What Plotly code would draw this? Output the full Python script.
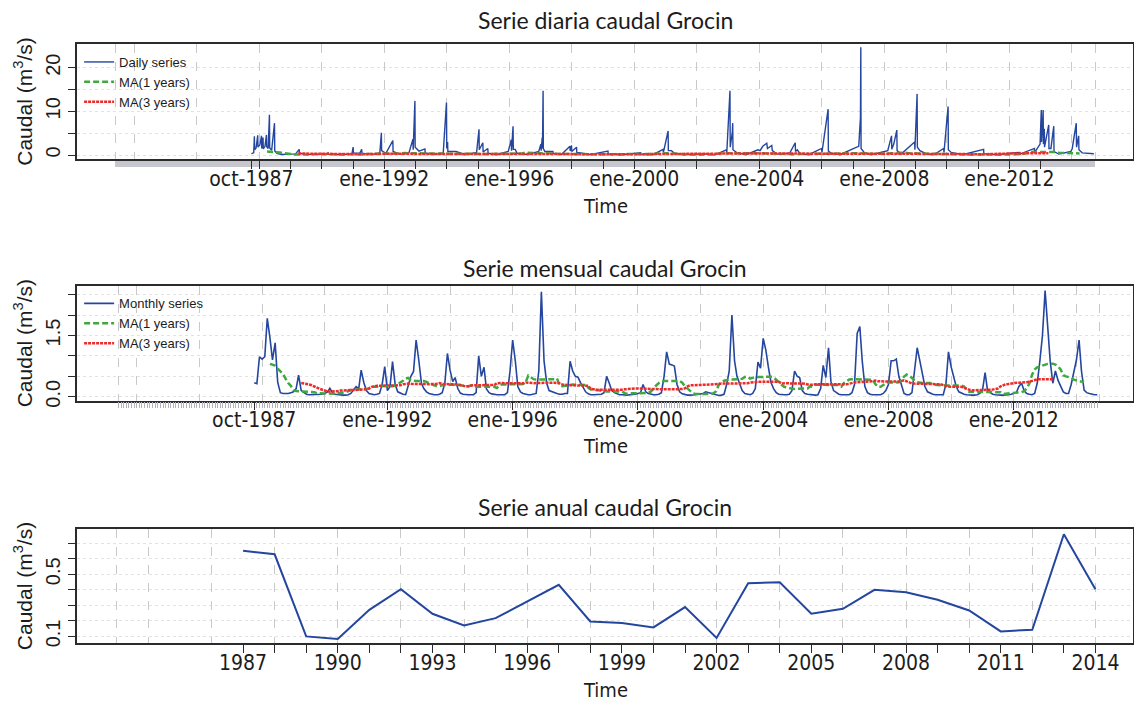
import pandas as pd
import plotly.graph_objects as go

# ---------------- DATA ----------------
daily_dates = [
    "1987-10-01", "1987-10-28", "1987-11-05", "1987-11-08", "1987-11-25", "1987-12-14", "1987-12-17",
    "1988-01-08", "1988-01-27", "1988-01-30", "1988-02-14", "1988-02-17", "1988-03-08", "1988-03-25",
    "1988-03-28", "1988-04-14", "1988-04-29", "1988-05-02", "1988-05-25", "1988-06-27", "1988-06-30",
    "1988-07-25", "1988-09-15", "1988-12-10", "1989-03-01", "1989-04-12", "1989-04-15", "1989-07-01",
    "1989-12-01", "1990-03-10", "1990-03-15", "1990-03-18", "1990-09-01", "1990-12-20", "1991-01-02",
    "1991-01-05", "1991-03-20", "1991-04-12", "1991-04-15", "1991-08-01", "1991-11-10", "1991-11-28",
    "1991-12-01", "1992-01-20", "1992-04-10", "1992-04-13", "1992-07-01", "1992-10-15", "1992-12-01",
    "1992-12-04", "1992-12-24", "1992-12-27", "1993-02-10", "1993-04-20", "1993-04-23", "1993-08-01",
    "1993-11-20", "1993-12-28", "1993-12-31", "1994-01-10", "1994-01-13", "1994-04-20", "1994-08-01",
    "1994-12-15", "1995-01-12", "1995-01-15", "1995-02-26", "1995-03-01", "1995-04-25", "1995-04-28",
    "1995-08-01", "1995-12-20", "1996-01-24", "1996-01-27", "1996-02-14", "1996-02-17", "1996-03-10",
    "1996-04-01", "1996-08-01", "1996-12-10", "1997-01-04", "1997-01-07", "1997-01-20", "1997-01-23",
    "1997-01-30", "1997-02-02", "1997-02-20", "1997-05-25", "1997-05-28", "1997-09-01", "1997-12-10",
    "1997-12-13", "1997-12-28", "1997-12-31", "1998-02-25", "1998-02-28", "1998-04-15", "1998-08-01",
    "1999-02-27", "1999-03-02", "1999-08-01", "2000-03-15", "2000-03-18", "2000-08-01", "2000-12-03",
    "2000-12-06", "2001-01-30", "2001-02-02", "2001-03-10", "2001-04-15", "2001-08-01", "2002-03-20",
    "2002-08-01", "2002-12-14", "2002-12-17", "2003-01-23", "2003-01-26", "2003-02-20", "2003-02-24",
    "2003-02-27", "2003-04-15", "2003-08-01", "2003-12-15", "2004-01-10", "2004-02-10", "2004-03-28",
    "2004-04-05", "2004-05-25", "2004-06-01", "2004-07-25", "2004-12-20", "2005-02-24", "2005-02-27",
    "2005-03-20", "2005-04-20", "2005-08-01", "2005-12-28", "2006-01-02", "2006-03-15", "2006-03-18",
    "2006-04-20", "2006-08-01", "2007-01-10", "2007-03-08", "2007-03-28", "2007-04-01", "2007-04-04",
    "2007-05-10", "2007-08-01", "2008-02-10", "2008-03-25", "2008-03-28", "2008-04-20", "2008-05-26",
    "2008-05-29", "2008-07-15", "2008-12-20", "2008-12-23", "2009-01-18", "2009-01-21", "2009-02-20",
    "2009-05-01", "2009-08-01", "2009-11-25", "2009-11-28", "2010-01-15", "2010-01-18", "2010-02-20",
    "2010-07-01", "2011-03-06", "2011-03-09", "2011-08-01", "2012-05-01", "2012-05-04", "2012-10-20",
    "2012-10-23", "2012-12-25", "2013-01-08", "2013-01-11", "2013-01-30", "2013-02-02", "2013-02-12",
    "2013-02-15", "2013-04-05", "2013-04-08", "2013-05-01", "2013-06-03", "2013-06-06", "2013-08-01",
    "2013-12-20", "2014-01-05", "2014-02-21", "2014-02-24", "2014-03-21", "2014-03-24", "2014-05-01",
    "2014-09-15",
]
daily_values = [
    0.30, 0.50, 4.3, 1.2, 1.6, 4.5, 1.8,
    2.3, 4.4, 1.5, 4.0, 1.4, 2.0, 4.6,
    1.9, 1.5, 9.2, 1.6, 1.1, 7.3, 0.9,
    0.35, 0.12, 0.15, 0.25, 1.3, 0.4, 0.10,
    0.08, 0.20, 0.6, 0.20, 0.05, 0.30, 1.8,
    0.5, 0.4, 1.3, 0.4, 0.10, 0.5, 5.1,
    1.0, 0.4, 3.3, 0.8, 0.15, 0.5, 3.6,
    1.2, 12.4, 1.8, 0.9, 1.4, 0.5, 0.10,
    0.5, 12.0, 1.5, 3.0, 0.8, 0.8, 0.08,
    0.6, 5.9, 1.2, 2.8, 0.7, 1.5, 0.4,
    0.08, 0.8, 3.5, 1.0, 6.6, 1.3, 1.3,
    0.4, 0.08, 0.8, 2.5, 1.0, 4.0, 1.5,
    14.7, 1.5, 0.8, 0.8, 0.3, 0.10, 2.0,
    0.9, 2.2, 0.8, 1.8, 0.6, 0.5, 0.08,
    0.9, 0.3, 0.06, 0.5, 0.15, 0.06, 1.3,
    0.6, 5.5, 1.0, 1.0, 0.4, 0.05, 0.3,
    0.04, 1.2, 0.6, 14.7, 1.8, 5.3, 7.3,
    1.2, 0.5, 0.08, 1.2, 1.0, 2.0, 2.7,
    1.5, 2.2, 1.0, 0.2, 0.4, 2.8, 0.8,
    1.2, 0.3, 0.06, 1.5, 0.6, 10.5, 0.9,
    0.4, 0.06, 1.5, 2.0, 8.6, 24.7, 1.5,
    0.6, 0.06, 1.0, 4.4, 1.3, 2.5, 5.7,
    1.0, 0.2, 3.0, 1.2, 14.0, 1.8, 1.0,
    0.3, 0.06, 1.5, 0.6, 11.1, 1.2, 0.6,
    0.06, 1.3, 0.3, 0.05, 0.6, 0.2, 1.5,
    0.6, 2.5, 10.3, 3.0, 10.3, 2.5, 6.0,
    1.8, 6.9, 1.5, 1.5, 6.6, 0.8, 0.2,
    0.8, 1.5, 7.3, 1.8, 4.4, 1.2, 0.5,
    0.3,
]

# monthly means, hydrological years Oct..Sep, oct-1987 .. sep-2014
monthly_start = "1987-10-01"
monthly_values = [
    0.34, 0.32, 0.98, 0.92, 0.98, 1.92, 1.45, 0.90, 1.32, 0.35, 0.10, 0.08,  # 1987-88
    0.08, 0.08, 0.10, 0.12, 0.20, 0.53, 0.15, 0.10, 0.06, 0.05, 0.05, 0.05,  # 1988-89
    0.05, 0.05, 0.06, 0.08, 0.12, 0.21, 0.10, 0.06, 0.05, 0.05, 0.04, 0.04,  # 1989-90
    0.05, 0.08, 0.15, 0.25, 0.20, 0.65, 0.35, 0.15, 0.08, 0.06, 0.05, 0.06,  # 1990-91
    0.08, 0.30, 0.74, 0.15, 0.25, 0.86, 0.30, 0.12, 0.08, 0.06, 0.05, 0.30,  # 1991-92
    0.50, 0.62, 1.39, 0.90, 0.33, 0.20, 0.12, 0.08, 0.06, 0.05, 0.05, 0.06,  # 1992-93
    0.10, 0.33, 1.06, 0.65, 0.37, 0.47, 0.20, 0.09, 0.06, 0.05, 0.05, 0.05,  # 1993-94
    0.05, 0.10, 1.00, 0.50, 0.72, 0.19, 0.10, 0.07, 0.05, 0.05, 0.05, 0.05,  # 1994-95
    0.05, 0.10, 0.62, 1.39, 0.88, 0.25, 0.12, 0.08, 0.06, 0.05, 0.05, 0.06,  # 1995-96
    0.08, 0.63, 2.57, 0.88, 0.33, 0.15, 0.12, 0.10, 0.08, 0.06, 0.06, 0.08,  # 1996-97
    0.08, 0.87, 0.63, 0.50, 0.48, 0.35, 0.25, 0.12, 0.07, 0.05, 0.05, 0.05,  # 1997-98
    0.05, 0.06, 0.10, 0.50, 0.33, 0.15, 0.10, 0.07, 0.05, 0.05, 0.04, 0.04,  # 1998-99
    0.05, 0.05, 0.06, 0.08, 0.10, 0.30, 0.12, 0.08, 0.06, 0.05, 0.05, 0.06,  # 1999-00
    0.10, 0.50, 1.10, 0.80, 0.78, 0.75, 0.30, 0.12, 0.07, 0.05, 0.04, 0.04,  # 2000-01
    0.04, 0.05, 0.06, 0.07, 0.08, 0.12, 0.10, 0.08, 0.05, 0.04, 0.03, 0.04,  # 2001-02
    0.06, 0.30, 0.63, 2.00, 0.88, 0.50, 0.33, 0.15, 0.08, 0.06, 0.05, 0.08,  # 2002-03
    0.20, 0.85, 0.70, 1.43, 1.14, 0.73, 0.35, 0.20, 0.10, 0.06, 0.05, 0.05,  # 2003-04
    0.05, 0.06, 0.15, 0.63, 0.50, 0.47, 0.15, 0.08, 0.06, 0.05, 0.04, 0.04,  # 2004-05
    0.05, 0.20, 0.77, 0.47, 1.20, 0.37, 0.15, 0.10, 0.06, 0.05, 0.05, 0.05,  # 2005-06
    0.05, 0.10, 0.30, 1.55, 1.72, 0.88, 0.25, 0.10, 0.06, 0.05, 0.05, 0.05,  # 2006-07
    0.05, 0.08, 0.15, 0.30, 0.88, 0.88, 0.92, 0.50, 0.25, 0.08, 0.05, 0.05,  # 2007-08
    0.10, 0.73, 1.20, 0.88, 0.50, 0.25, 0.12, 0.08, 0.06, 0.05, 0.05, 0.05,  # 2008-09
    0.05, 0.30, 1.10, 0.73, 0.45, 0.25, 0.12, 0.08, 0.06, 0.05, 0.04, 0.04,  # 2009-10
    0.04, 0.05, 0.08, 0.15, 0.59, 0.16, 0.10, 0.06, 0.05, 0.04, 0.04, 0.04,  # 2010-11
    0.04, 0.05, 0.06, 0.08, 0.10, 0.25, 0.33, 0.15, 0.08, 0.06, 0.05, 0.08,  # 2011-12
    0.33, 0.88, 1.50, 2.60, 1.72, 0.88, 0.33, 0.63, 0.40, 0.25, 0.12, 0.08,  # 2012-13
    0.08, 0.30, 0.63, 0.90, 1.39, 0.63, 0.16, 0.10, 0.08, 0.06, 0.05, 0.05,  # 2013-14
]

annual_years = list(range(1987, 2015))
annual_values = [
    0.652, 0.629, 0.100, 0.083, 0.271, 0.404, 0.246, 0.171, 0.218, 0.325,
    0.432, 0.196, 0.186, 0.158, 0.289, 0.090, 0.443, 0.449, 0.246, 0.278,
    0.400, 0.385, 0.336, 0.267, 0.132, 0.143, 0.758, 0.404,
]

# axis tick labels
time_tick_dates = ["1987-10-01"] + [f"{y}-01-01" for y in range(1988, 2015)]
time_tick_labels = {"1987-10-01": "oct-1987", "1992-01-01": "ene-1992", "1996-01-01": "ene-1996",
                    "2000-01-01": "ene-2000", "2004-01-01": "ene-2004", "2008-01-01": "ene-2008",
                    "2012-01-01": "ene-2012"}
annual_tick_labels = [1987, 1990, 1993, 1996, 1999, 2002, 2005, 2008, 2011, 2014]
series_span = ("1983-06-01", "2014-09-30")

# ---------------- DERIVED ----------------
monthly_dates = pd.date_range(monthly_start, periods=len(monthly_values), freq="MS")
ms = pd.Series(monthly_values, index=monthly_dates)
ma1 = ms.rolling(12, center=True).mean()
ma3 = ms.rolling(36, center=True).mean()

BLUE = "#24469e"
GREEN = "#3fa83f"
RED = "#ee2a2a"
AX = "#2b2b2b"
GRID = "#c9c9c9"
HGRID = "#e2e2e2"
NARROW = "Liberation Sans Narrow, DejaVu Sans Condensed, Arial Narrow, sans-serif"
SANS = "Liberation Sans, Arial, sans-serif"
TITLEF = "Lato, Open Sans, sans-serif"
TXT = "#1c1c1c"

fig = go.Figure()

# daily panel
fig.add_trace(go.Scatter(x=daily_dates, y=daily_values, mode="lines", name="Daily series",
                         line=dict(color=BLUE, width=1.4), xaxis="x", yaxis="y", legend="legend"))
fig.add_trace(go.Scatter(x=ma1.index, y=ma1.values, mode="lines", name="MA(1 years)",
                         line=dict(color=GREEN, width=2.5, dash="6px,3px"), xaxis="x", yaxis="y", legend="legend"))
fig.add_trace(go.Scatter(x=ma3.index, y=ma3.values, mode="lines", name="MA(3 years)",
                         line=dict(color=RED, width=2.5, dash="3px,1px"), xaxis="x", yaxis="y", legend="legend"))

# monthly panel
fig.add_trace(go.Scatter(x=monthly_dates, y=monthly_values, mode="lines", name="Monthly series",
                         line=dict(color=BLUE, width=1.6), xaxis="x2", yaxis="y2", legend="legend2"))
fig.add_trace(go.Scatter(x=ma1.index, y=ma1.values, mode="lines", name="MA(1 years)",
                         line=dict(color=GREEN, width=2.5, dash="6px,3px"), xaxis="x2", yaxis="y2", legend="legend2"))
fig.add_trace(go.Scatter(x=ma3.index, y=ma3.values, mode="lines", name="MA(3 years)",
                         line=dict(color=RED, width=2.5, dash="3px,1px"), xaxis="x2", yaxis="y2", legend="legend2"))

# annual panel
fig.add_trace(go.Scatter(x=annual_years, y=annual_values, mode="lines", name="Annual series",
                         line=dict(color=BLUE, width=2), xaxis="x3", yaxis="y3", showlegend=False))

# empty helper traces so that the grid-only overlay axes are drawn
for xa, ya in [("x4", "y"), ("x5", "y2"), ("x6", "y3")]:
    fig.add_trace(go.Scatter(x=[None], y=[None], mode="lines", xaxis=xa, yaxis=ya,
                             showlegend=False, hoverinfo="skip"))

d_range = ["1982-03-03", "2015-12-16"]
m_range = ["1982-02-02", "2015-10-23"]
a_range = [1981.74, 2015.19]

grid_dates = [series_span[0]] + [f"{y}-01-01" for y in range(1984, 2015, 2)] + [series_span[1]]
grid_years = [1983] + list(range(1984, 2015, 2))

tickfont = dict(family=NARROW, size=21, color=TXT)
ytickfont = dict(family=SANS, size=20, color=TXT)

band_weekly = [d.strftime("%Y-%m-%d") for d in pd.date_range(series_span[0], series_span[1], freq="7D")]
band_monthly = [d.strftime("%Y-%m-%d") for d in pd.date_range(series_span[0], series_span[1], freq="MS")]


def xax(rng, tickvals, ticktext, typ, band=None, band_color="#c6c6ce"):
    d = dict(type=typ, range=rng, tickmode="array", tickvals=tickvals, ticktext=ticktext,
             ticks="outside", ticklen=8, tickwidth=1.2, tickcolor=AX, tickfont=tickfont,
             ticklabelstandoff=-8,
             showline=True, linecolor=AX, linewidth=1.5, mirror=True, showgrid=False,
             zeroline=False, automargin=False)
    if band is not None:
        d["minor"] = dict(tickmode="array", tickvals=band, ticks="outside", ticklen=6, tickwidth=1,
                          tickcolor=band_color, showgrid=False)
    return d


def gridax(over, anchor, rng, vals, typ):
    return dict(overlaying=over, anchor=anchor, type=typ, range=rng, tickmode="array", tickvals=vals,
                ticks="", showticklabels=False, showgrid=True, gridcolor=GRID, griddash="dash",
                gridwidth=1, showline=False, zeroline=False)


def yax(domain, rng, tickvals, ticktext):
    return dict(domain=domain, range=rng, tickmode="array", tickvals=tickvals, ticktext=ticktext,
                tickangle=-90, ticks="outside", ticklen=7, tickwidth=1.2, tickcolor=AX,
                tickfont=ytickfont, showline=True, linecolor=AX, linewidth=1.5, mirror=True,
                showgrid=True, gridcolor=HGRID, griddash="dot", gridwidth=1, zeroline=False,
                automargin=False)


tt = [time_tick_labels.get(d, "") for d in time_tick_dates]

fig.update_layout(
    width=1134, height=704,
    margin=dict(l=77, r=1, t=44, b=61),
    paper_bgcolor="white", plot_bgcolor="white",
    xaxis=dict(anchor="y", domain=[0, 1], **xax(d_range, time_tick_dates, tt, "date", band_weekly, "#c6c6ce")),
    yaxis=dict(anchor="x", **yax([0.8075, 1.0], [-0.985, 25.43], [0, 5, 10, 15, 20], ["0", "", "10", "", "20"])),
    xaxis2=dict(anchor="y2", domain=[0, 1], **xax(m_range, time_tick_dates, tt, "date", band_monthly, "#b2b2be")),
    yaxis2=dict(anchor="x2", **yax([0.4048, 0.596], [-0.093, 2.713], [0, 0.5, 1, 1.5, 2, 2.5],
                                     ["0.0", "", "", "1.5", "", ""])),
    xaxis3=dict(anchor="y3", domain=[0, 1], **xax(a_range, annual_years,
                                                  [str(y) if y in annual_tick_labels else "" for y in annual_years],
                                                  "linear")),
    yaxis3=dict(anchor="x3", **yax([0.0, 0.1898], [0.0576, 0.79], [0.1, 0.2, 0.3, 0.4, 0.5, 0.6, 0.7],
                                     ["0.1", "", "", "", "0.5", "", ""])),
    xaxis4=gridax("x", "y", d_range, grid_dates, "date"),
    xaxis5=gridax("x2", "y2", m_range, grid_dates, "date"),
    xaxis6=gridax("x3", "y3", a_range, grid_years, "linear"),
    legend=dict(x=0.002, y=0.995, xanchor="left", yanchor="top", bgcolor="rgba(0,0,0,0)",
                font=dict(family=SANS, size=13, color=TXT), tracegroupgap=0, itemwidth=30),
    legend2=dict(x=0.002, y=0.592, xanchor="left", yanchor="top", bgcolor="rgba(0,0,0,0)",
                 font=dict(family=SANS, size=13, color=TXT), tracegroupgap=0, itemwidth=30),
)

ann = []
for title, yp in [("Serie diaria caudal Grocin", 1.040), ("Serie mensual caudal Grocin", 0.626),
                  ("Serie anual caudal Grocin", 0.227)]:
    ann.append(dict(text=title, x=0.5, y=yp, xref="paper", yref="paper", showarrow=False,
                    xanchor="center", yanchor="middle", font=dict(family=TITLEF, size=23, color=TXT)))
for yp in [0.7295, 0.3289, -0.0785]:
    ann.append(dict(text="Time", x=0.5, y=yp, xref="paper", yref="paper", showarrow=False,
                    xanchor="center", yanchor="middle", font=dict(family=NARROW, size=20, color=TXT)))
for yp in [0.9037, 0.5004, 0.0949]:
    ann.append(dict(text="Caudal (m<sup>3</sup>/s)", x=-0.0511, y=yp, xref="paper", yref="paper",
                    showarrow=False, textangle=-90, xanchor="center", yanchor="middle",
                    font=dict(family=SANS, size=21, color=TXT)))
fig.update_layout(annotations=ann)

fig.write_html("out.html", config={"displayModeBar": False},
               post_script="document.body.style.margin='0';")
